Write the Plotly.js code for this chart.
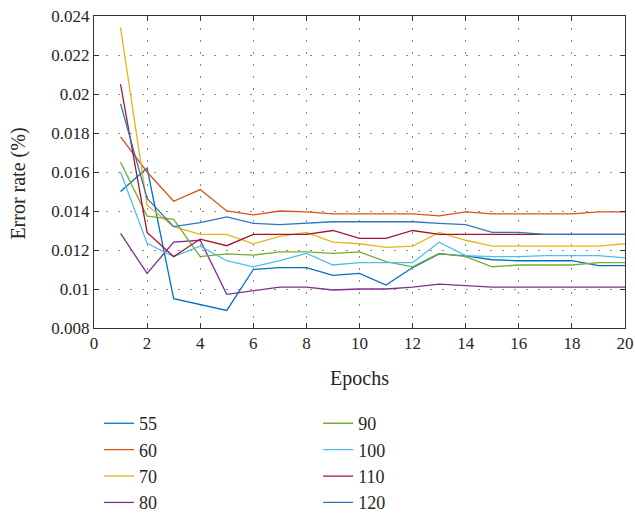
<!DOCTYPE html>
<html>
<head>
<meta charset="utf-8">
<script src="https://cdn.plot.ly/plotly-3.0.1.min.js"></script>
<style>html,body{margin:0;padding:0;background:#fff;}#chart{width:635px;height:514px;}</style>
</head>
<body>
<div id="chart"></div>
<script>
const epochs = [1,2,3,4,5,6,7,8,9,10,11,12,13,14,15,16,17,18,19,20];
const seriesNames = ["55","60","70","80","90","100","110","120"];
const s55  = [0.0150,0.0162,0.0095,0.0092,0.0089,0.0110,0.0111,0.0111,0.0107,0.0108,0.0102,0.0111,0.0118,0.0117,0.0115,0.01145,0.01145,0.01145,0.0112,0.0112];
const s60  = [0.0178,0.0160,0.0145,0.0151,0.0140,0.0138,0.0140,0.01395,0.01385,0.01385,0.01385,0.01385,0.01375,0.01395,0.01385,0.01385,0.01385,0.01385,0.01395,0.01395];
const s70  = [0.0234,0.0143,0.0132,0.0128,0.0128,0.01232,0.0127,0.0129,0.0124,0.01232,0.01213,0.0122,0.0129,0.0125,0.0122,0.0122,0.0122,0.0122,0.0122,0.01232];
const s80  = [0.01285,0.0108,0.0124,0.0125,0.00973,0.0099,0.0101,0.0101,0.00995,0.0100,0.0100,0.0101,0.01025,0.01017,0.0101,0.0101,0.0101,0.0101,0.0101,0.0101];
const s90  = [0.0165,0.01374,0.01357,0.01166,0.0118,0.01174,0.0119,0.0119,0.01183,0.0119,0.0114,0.01114,0.01183,0.01166,0.01114,0.01123,0.01123,0.01123,0.01135,0.01135];
const s100 = [0.0160,0.01234,0.01166,0.0122,0.01145,0.01114,0.01145,0.01183,0.01123,0.01135,0.01135,0.01135,0.0124,0.01171,0.01166,0.01166,0.01171,0.01171,0.01171,0.0116];
const s110 = [0.0205,0.0129,0.01166,0.01256,0.01222,0.0128,0.0128,0.0128,0.0130,0.0126,0.0126,0.0130,0.0128,0.0128,0.0128,0.0128,0.0128,0.0128,0.0128,0.0128];
const s120 = [0.0195,0.01465,0.0132,0.0134,0.0137,0.01337,0.0133,0.01337,0.01345,0.01345,0.01345,0.01345,0.01337,0.0133,0.0129,0.0129,0.0128,0.0128,0.0128,0.0128];
const allSeries = [s55,s60,s70,s80,s90,s100,s110,s120];
const colors = ["#0072BD","#D95319","#EDB120","#7E2F8E","#77AC30","#4DBEEE","#A2142F","#2a79c0"];
const xTitle = 'Epochs';
const yTitle = 'Error rate (%)';

const font = "'Liberation Serif', 'DejaVu Serif', serif";
const traces = allSeries.map((ys, i) => ({
  x: epochs, y: ys, name: seriesNames[i], type: 'scatter', mode: 'lines',
  line: {color: colors[i], width: 1.3},
  legend: i < 4 ? 'legend' : 'legend2'
}));

const axisCommon = {
  showline: true, mirror: 'ticks', linecolor: '#333', linewidth: 1,
  ticks: 'inside', ticklen: 5, tickcolor: '#333',
  showgrid: true, gridcolor: '#8a8a8a', gridwidth: 1, griddash: '2px,10px',
  zeroline: false, automargin: true,
  tickfont: {family: font, size: 17, color: '#262626'}
};

const legendCommon = {
  font: {family: font, size: 18, color: '#262626'},
  bgcolor: 'rgba(0,0,0,0)', itemwidth: 30, tracegroupgap: 0,
  xref: 'container', yref: 'container',
  yanchor: 'top', xanchor: 'left', orientation: 'v'
};

const layout = {
  width: 635, height: 514,
  margin: {l: 94, r: 10, t: 16, b: 186, autoexpand: false},
  paper_bgcolor: '#fff', plot_bgcolor: '#fff',
  font: {family: font, color: '#262626'},
  showlegend: true,
  xaxis: Object.assign({}, axisCommon, {
    range: [0, 20], dtick: 2, tick0: 0,
    title: {text: xTitle, font: {family: font, size: 20, color: '#262626'}, standoff: 18}
  }),
  yaxis: Object.assign({}, axisCommon, {
    range: [0.008, 0.024], dtick: 0.002, tick0: 0.008
  }),
  annotations: [{
    text: yTitle, xref: 'paper', yref: 'paper', x: -0.143, y: 0.463,
    xanchor: 'center', yanchor: 'middle', textangle: -90, showarrow: false,
    font: {family: font, size: 20, color: '#262626'}
  }],
  legend: Object.assign({}, legendCommon, {x: 0.156, y: 0.212}),
  legend2: Object.assign({}, legendCommon, {x: 0.501, y: 0.212})
};

Plotly.newPlot('chart', traces, layout, {displayModeBar: false, staticPlot: true});
</script>
</body>
</html>
